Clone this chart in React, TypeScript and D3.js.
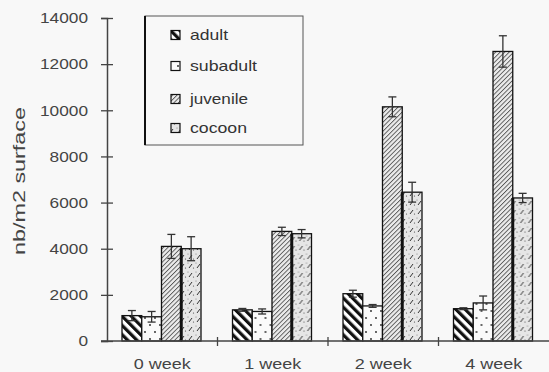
import React, { useEffect, useRef } from 'react';
import * as d3 from 'd3';

const weeks = ['0 week', '1 week', '2 week', '4 week'];
const stages = ['adult', 'subadult', 'juvenile', 'cocoon'];
const adult = [1100, 1350, 2050, 1400];
const subadult = [1050, 1280, 1520, 1650];
const juvenile = [4100, 4750, 10150, 12550];
const cocoon = [4000, 4650, 6450, 6200];
const adultErr = [220, 60, 150, 40];
const subadultErr = [230, 110, 60, 300];
const juvenileErr = [520, 180, 430, 680];
const cocoonErr = [520, 180, 430, 200];
const yTicks = [0, 2000, 4000, 6000, 8000, 10000, 12000, 14000];

const W = 549;
const H = 372;
const font = '"Liberation Sans", Arial, sans-serif';

const App = () => {
  const svgRef = useRef(null);

  useEffect(() => {
    const svg = d3.select(svgRef.current);
    svg.selectAll('*').remove();

    const x = d3.scaleBand().domain(weeks).range([107, 549]).padding(0);
    const inner = d3.scaleBand().domain(stages).range([15, 94]).padding(0);
    const y = d3.scaleLinear().domain([0, 14000]).range([341, 18]);

    const series = [adult, subadult, juvenile, cocoon];
    const errs = [adultErr, subadultErr, juvenileErr, cocoonErr];

    const defs = svg.append('defs');
    const adultP = defs.append('pattern').attr('id', 'p-adult')
      .attr('patternUnits', 'userSpaceOnUse').attr('width', 6.5).attr('height', 6.5)
      .attr('patternTransform', 'rotate(-45)');
    adultP.append('rect').attr('width', 6.5).attr('height', 6.5).attr('fill', '#fff');
    adultP.append('rect').attr('width', 3.2).attr('height', 6.5).attr('fill', '#111');

    const subP = defs.append('pattern').attr('id', 'p-subadult')
      .attr('patternUnits', 'userSpaceOnUse').attr('width', 10).attr('height', 14);
    subP.append('rect').attr('width', 10).attr('height', 14).attr('fill', '#fafafa');
    subP.append('circle').attr('cx', 3).attr('cy', 3).attr('r', 0.9).attr('fill', '#222');
    subP.append('circle').attr('cx', 8).attr('cy', 10).attr('r', 0.9).attr('fill', '#222');

    const juvP = defs.append('pattern').attr('id', 'p-juvenile')
      .attr('patternUnits', 'userSpaceOnUse').attr('width', 3.2).attr('height', 3.2)
      .attr('patternTransform', 'rotate(45)');
    juvP.append('rect').attr('width', 3.2).attr('height', 3.2).attr('fill', '#ececec');
    juvP.append('rect').attr('width', 0.9).attr('height', 3.2).attr('fill', '#555');

    const cocP = defs.append('pattern').attr('id', 'p-cocoon')
      .attr('patternUnits', 'userSpaceOnUse').attr('width', 8).attr('height', 9);
    cocP.append('rect').attr('width', 8).attr('height', 9).attr('fill', '#e6e6e6');
    cocP.append('line').attr('x1', 2).attr('y1', 7).attr('x2', 5).attr('y2', 3)
      .attr('stroke', '#333').attr('stroke-width', 1);
    cocP.append('circle').attr('cx', 6.5).attr('cy', 7).attr('r', 0.6).attr('fill', '#444');
    cocP.append('circle').attr('cx', 1).attr('cy', 2).attr('r', 0.5).attr('fill', '#666');

    const bars = svg.append('g');
    weeks.forEach((wk, i) => {
      const g = bars.append('g').attr('transform', `translate(${x(wk)},0)`);
      stages.forEach((st, s) => {
        const v = series[s][i];
        const e = errs[s][i];
        const bx = inner(st);
        const bw = inner.bandwidth();
        g.append('rect')
          .attr('x', bx).attr('y', y(v))
          .attr('width', bw).attr('height', y(0) - y(v))
          .attr('fill', `url(#p-${st})`)
          .attr('stroke', '#111').attr('stroke-width', 1.3);
        if (st === 'cocoon') {
          g.append('line').attr('x1', bx).attr('x2', bx)
            .attr('y1', y(v)).attr('y2', y(0))
            .attr('stroke', '#111').attr('stroke-width', 3);
        }
        const cx = bx + bw / 2;
        const eb = g.append('g').attr('stroke', '#333').attr('stroke-width', 1.3);
        eb.append('line').attr('x1', cx).attr('x2', cx).attr('y1', y(v - e)).attr('y2', y(v + e));
        eb.append('line').attr('x1', cx - 4).attr('x2', cx + 4).attr('y1', y(v + e)).attr('y2', y(v + e));
        eb.append('line').attr('x1', cx - 4).attr('x2', cx + 4).attr('y1', y(v - e)).attr('y2', y(v - e));
      });
    });

    // y axis: ticks cross the line, wide-set labels like the scan
    const yAxis = d3.axisLeft(y).tickValues(yTicks).tickSize(6).tickPadding(13).tickFormat(d3.format('d'));
    const ya = svg.append('g').attr('transform', 'translate(107,0)').call(yAxis);
    ya.select('.domain').attr('stroke', '#444').attr('stroke-width', 1.5);
    ya.selectAll('.tick line').attr('x1', 6).attr('stroke', '#444').attr('stroke-width', 1.3);
    ya.selectAll('.tick text').attr('font-family', font).attr('font-size', 15).attr('fill', '#444')
      .attr('textLength', (d) => String(d).length * 9.6).attr('lengthAdjust', 'spacingAndGlyphs');

    const xa = svg.append('g').attr('transform', `translate(0,${y(0)})`);
    xa.append('line').attr('x1', 101).attr('x2', 549).attr('stroke', '#444').attr('stroke-width', 1.5);
    weeks.slice(1).forEach((wk) => {
      xa.append('line').attr('x1', x(wk)).attr('x2', x(wk)).attr('y1', -4).attr('y2', 5)
        .attr('stroke', '#444').attr('stroke-width', 1.3);
    });
    weeks.forEach((wk) => {
      xa.append('text').attr('x', x(wk) + x.bandwidth() / 2).attr('y', 28)
        .attr('text-anchor', 'middle').attr('font-family', font).attr('font-size', 15)
        .attr('fill', '#444').attr('textLength', 57).attr('lengthAdjust', 'spacingAndGlyphs').text(wk);
    });

    svg.append('text')
      .attr('transform', 'translate(25,181) rotate(-90)')
      .attr('text-anchor', 'middle').attr('font-family', font).attr('font-size', 17)
      .attr('fill', '#444').attr('textLength', 148).attr('lengthAdjust', 'spacingAndGlyphs')
      .text('nb/m2 surface');

    const lg = svg.append('g');
    lg.append('rect').attr('x', 145).attr('y', 16).attr('width', 158).attr('height', 129)
      .attr('fill', 'none').attr('stroke', '#555').attr('stroke-width', 1);
    lg.append('line').attr('x1', 145).attr('x2', 145).attr('y1', 16).attr('y2', 145)
      .attr('stroke', '#111').attr('stroke-width', 2);
    const legendY = [35, 66, 99, 128];
    const legendLen = [38, 67, 58, 57];
    stages.forEach((st, s) => {
      const ly = legendY[s];
      lg.append('rect').attr('x', 171).attr('y', ly - 4.5).attr('width', 9).attr('height', 9)
        .attr('fill', `url(#p-${st})`).attr('stroke', '#111').attr('stroke-width', 1.2);
      lg.append('text').attr('x', 190).attr('y', ly + 5).attr('font-family', font)
        .attr('font-size', 15).attr('fill', '#333')
        .attr('textLength', legendLen[s]).attr('lengthAdjust', 'spacingAndGlyphs').text(st);
    });
  }, []);

  return (
    <div style={{ position: 'absolute', left: 0, top: 0 }}>
      <svg ref={svgRef} width={W} height={H} style={{ display: 'block', background: '#f8f8f8' }} />
    </div>
  );
};

export default App;
